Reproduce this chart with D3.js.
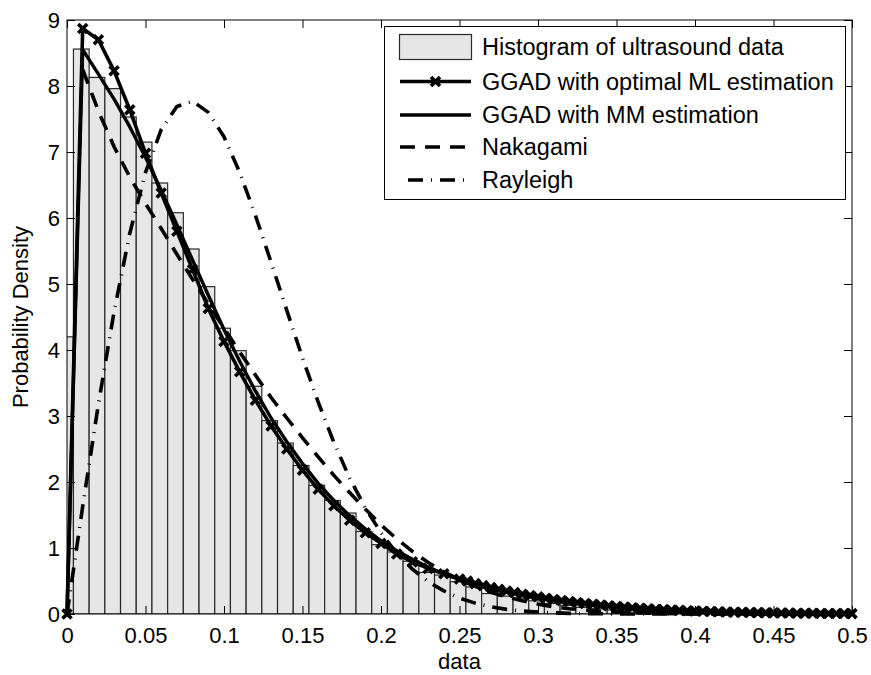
<!DOCTYPE html>
<html>
<head>
<meta charset="utf-8">
<script src="https://cdn.jsdelivr.net/npm/d3@7"></script>
<style>
body { margin: 0; background: #fff; }
text { font-family: "Liberation Sans", Arial, Helvetica, sans-serif; fill: #000; }
</style>
</head>
<body>
<svg id="chart" width="871" height="675"></svg>
<script>
// histogram: bin width 0.01, first bin starts at -0.0059 (clipped at 0)
const binStart = -0.0059;
const binWidth = 0.01;
const histHeights = [4.2, 8.56, 8.13, 7.96, 7.53, 7.15, 6.53, 6.08, 5.53, 4.96,
	4.33, 3.99, 3.45, 2.93, 2.59, 2.25, 1.95, 1.72, 1.53, 1.25,
	1.05, 0.94, 0.8, 0.63, 0.59, 0.49, 0.41, 0.31, 0.27, 0.23,
	0.2, 0.16, 0.13, 0.1, 0.08, 0.06, 0.05, 0.035, 0.03, 0.02,
	0.017, 0.012, 0.01, 0.008, 0.006, 0.005, 0.004, 0.003, 0.002, 0.002, 0.001];

// ML curve: points every 0.01 up to 0.25, then every 0.005
const mlHeadStep = 0.01;
const mlHead = [0, 8.87, 8.70, 8.23, 7.64, 6.98, 6.38, 5.80, 5.22, 4.63,
	4.13, 3.67, 3.24, 2.85, 2.50, 2.18, 1.89, 1.64, 1.42, 1.23,
	1.07, 0.91, 0.79, 0.69, 0.61, 0.53];
const mlTailStart = 0.255;
const mlTailStep = 0.005;
const mlTail = [0.50, 0.46, 0.43, 0.40, 0.375, 0.35, 0.325, 0.30, 0.28, 0.26,
	0.24, 0.22, 0.205, 0.19, 0.175, 0.16, 0.148, 0.135, 0.125, 0.115,
	0.105, 0.095, 0.088, 0.08, 0.073, 0.067, 0.061, 0.055, 0.05, 0.046,
	0.042, 0.038, 0.034, 0.031, 0.028, 0.026, 0.023, 0.021, 0.019, 0.017,
	0.015, 0.014, 0.012, 0.011, 0.01, 0.009, 0.008, 0.007, 0.0065, 0.006];

// other curves sampled at x = 0, 0.01, ..., 0.5
const curveStep = 0.01;
const ggadMM = [0, 8.55, 8.18, 7.80, 7.38, 6.92, 6.42, 5.90, 5.36, 4.83,
	4.31, 3.83, 3.38, 2.97, 2.61, 2.28, 1.98, 1.72, 1.49, 1.29,
	1.11, 0.96, 0.83, 0.71, 0.61, 0.52, 0.45, 0.38, 0.33, 0.28,
	0.24, 0.20, 0.17, 0.145, 0.12, 0.10, 0.085, 0.07, 0.058, 0.048,
	0.04, 0.033, 0.027, 0.022, 0.018, 0.015, 0.012, 0.01, 0.008, 0.0065, 0.005];
const nakagami = [null, 8.25, 7.62, 7.08, 6.62, 6.22, 5.84, 5.45, 5.07, 4.70,
	4.33, 3.97, 3.62, 3.28, 2.97, 2.67, 2.38, 2.10, 1.84, 1.59,
	1.35, 1.14, 0.95, 0.78, 0.64, 0.52, 0.42, 0.33, 0.26, 0.20,
	0.15, 0.11, 0.08, 0.06, 0.04, 0.03, 0.02, 0.013, 0.008, 0.005,
	0.003, 0.002, 0.001, 0.001, 0, 0, 0, 0, 0, 0, 0];
const rayleigh = [0, 1.63, 3.18, 4.58, 5.77, 6.69, 7.34, 7.69, 7.77, 7.60,
	7.23, 6.69, 6.04, 5.33, 4.60, 3.88, 3.21, 2.60, 2.06, 1.61,
	1.23, 0.92, 0.68, 0.49, 0.35, 0.24, 0.165, 0.11, 0.07, 0.045,
	0.03, 0.018, 0.01, 0.006, 0.003, 0.002, 0.001, 0, 0, 0,
	0, 0, 0, 0, 0, 0, 0, 0, 0, 0, 0];

const xTicks = [0, 0.05, 0.1, 0.15, 0.2, 0.25, 0.3, 0.35, 0.4, 0.45, 0.5];
const yTicks = [0, 1, 2, 3, 4, 5, 6, 7, 8, 9];
const legendLabels = ["Histogram of ultrasound data", "GGAD with optimal ML estimation",
	"GGAD with MM estimation", "Nakagami", "Rayleigh"];

const svg = d3.select("#chart");
const plotLeft = 67, plotRight = 852, plotTop = 20, plotBottom = 614;
const x = d3.scaleLinear().domain([0, 0.5]).range([plotLeft, plotRight]);
const y = d3.scaleLinear().domain([0, 9]).range([plotBottom, plotTop]);

svg.append("rect").attr("width", 871).attr("height", 675).attr("fill", "#fff");

svg.append("clipPath").attr("id", "plotClip")
	.append("rect")
	.attr("x", plotLeft).attr("y", plotTop)
	.attr("width", plotRight - plotLeft).attr("height", plotBottom - plotTop);

// bars
svg.append("g")
	.attr("clip-path", "url(#plotClip)")
	.selectAll("rect")
	.data(histHeights)
	.enter().append("rect")
	.attr("x", (d, i) => x(binStart + i * binWidth))
	.attr("y", d => y(d))
	.attr("width", x(binWidth) - x(0))
	.attr("height", d => y(0) - y(d))
	.attr("fill", "#e6e6e6")
	.attr("stroke", "#2a2a2a")
	.attr("stroke-width", 1.2);

function toPoints(arr, start, step) {
	return arr.map((v, i) => ({ x: start + i * step, y: v }));
}

const mlPoints = toPoints(mlHead, 0, mlHeadStep).concat(toPoints(mlTail, mlTailStart, mlTailStep));

const line = d3.line()
	.defined(d => d.y !== null)
	.x(d => x(d.x))
	.y(d => y(d.y));

const series = [
	{ points: mlPoints, width: 3.6, dash: null },
	{ points: toPoints(ggadMM, 0, curveStep), width: 3.4, dash: null },
	{ points: toPoints(nakagami, 0, curveStep), width: 3.6, dash: "15,10" },
	{ points: toPoints(rayleigh, 0, curveStep), width: 3.6, dash: "15,8,1,8" }
];

series.forEach(s => {
	svg.append("path")
		.datum(s.points)
		.attr("d", line)
		.attr("fill", "none")
		.attr("stroke", "#000")
		.attr("stroke-width", s.width)
		.attr("stroke-linejoin", "round")
		.attr("stroke-dasharray", s.dash);
});

const crossPath = "M-4.5,-4.5L4.5,4.5M-4.5,4.5L4.5,-4.5";
svg.append("g")
	.selectAll("path")
	.data(mlPoints)
	.enter().append("path")
	.attr("transform", d => "translate(" + x(d.x) + "," + y(d.y) + ")")
	.attr("d", crossPath)
	.attr("stroke", "#000")
	.attr("stroke-width", 3.6)
	.attr("fill", "none");

// axes (ticks point inwards)
const fontSize = 22;
const xAxis = svg.append("g")
	.attr("transform", "translate(0," + plotBottom + ")")
	.call(d3.axisBottom(x).tickValues(xTicks).tickSizeInner(-8).tickSizeOuter(0).tickPadding(13)
		.tickFormat(d => String(+d.toFixed(2))));
const yAxis = svg.append("g")
	.attr("transform", "translate(" + plotLeft + ",0)")
	.call(d3.axisLeft(y).tickValues(yTicks).tickSizeInner(-8).tickSizeOuter(0).tickPadding(7));
const xTop = svg.append("g")
	.attr("transform", "translate(0," + plotTop + ")")
	.call(d3.axisTop(x).tickValues(xTicks).tickSizeInner(-8).tickSizeOuter(0).tickFormat(""));
const yRight = svg.append("g")
	.attr("transform", "translate(" + plotRight + ",0)")
	.call(d3.axisRight(y).tickValues(yTicks).tickSizeInner(-8).tickSizeOuter(0).tickFormat(""));

[xAxis, yAxis, xTop, yRight].forEach(g => {
	g.select(".domain").remove();
	g.selectAll(".tick line").attr("stroke", "#000");
	g.selectAll("text").attr("font-size", fontSize).attr("font-family", null).attr("fill", "#000");
});

svg.append("rect")
	.attr("x", plotLeft).attr("y", plotTop)
	.attr("width", plotRight - plotLeft).attr("height", plotBottom - plotTop)
	.attr("fill", "none").attr("stroke", "#000").attr("stroke-width", 1);

svg.append("text")
	.attr("x", (plotLeft + plotRight) / 2).attr("y", 669)
	.attr("text-anchor", "middle")
	.attr("font-size", fontSize)
	.text("data");

svg.append("text")
	.attr("transform", "translate(28," + ((plotTop + plotBottom) / 2) + ") rotate(-90)")
	.attr("text-anchor", "middle")
	.attr("font-size", fontSize)
	.text("Probability Density");

// legend
const lg = svg.append("g");
lg.append("rect")
	.attr("x", 384.5).attr("y", 26.5)
	.attr("width", 461).attr("height", 173)
	.attr("fill", "#fff").attr("stroke", "#000").attr("stroke-width", 1);

const rowY = [46.5, 81.5, 115, 147, 180];
lg.append("rect")
	.attr("x", 399.5).attr("y", 34.5).attr("width", 72).attr("height", 25)
	.attr("fill", "#e6e6e6").attr("stroke", "#2a2a2a").attr("stroke-width", 1.2);

series.forEach((s, i) => {
	lg.append("line")
		.attr("x1", 400).attr("x2", 471)
		.attr("y1", rowY[i + 1]).attr("y2", rowY[i + 1])
		.attr("stroke", "#000")
		.attr("stroke-width", s.width)
		.attr("stroke-dasharray", s.dash)
		.attr("stroke-dashoffset", i === 3 ? 24 : 0);
});
lg.append("path")
	.attr("transform", "translate(435.5," + rowY[1] + ")")
	.attr("d", crossPath)
	.attr("stroke", "#000").attr("stroke-width", 3.6);

lg.selectAll("text.lab")
	.data(legendLabels)
	.enter().append("text")
	.attr("class", "lab")
	.attr("x", 482)
	.attr("y", (d, i) => rowY[i])
	.attr("dy", "0.36em")
	.attr("font-size", 23.5)
	.text(d => d);
</script>
</body>
</html>
